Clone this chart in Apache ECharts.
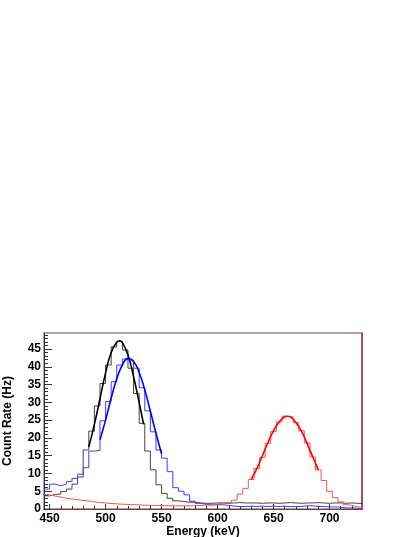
<!DOCTYPE html>
<html>
<head>
<meta charset="utf-8">
<script src="https://cdn.jsdelivr.net/npm/echarts@6/dist/echarts.min.js"></script>
<style>
  html, body { margin: 0; padding: 0; background: #fff; }
  #chart { width: 415px; height: 537px; }
</style>
</head>
<body>
<div id="chart"></div>
<script>
// histogram binning (keV)
const binWidth = 5;
const firstEdge = 445;
const redFirstEdge = 442.5;

// black source
const blackCounts = [3.7, 4.1, 4.2, 4.9, 5.6, 7.0, 9.0, 16.6, 21.9, 29.0,
  35.3, 40.5, 45.6, 47.1, 44.7, 39.6, 32.5, 24.1, 16.3, 11.0,
  6.8, 4.4, 3.0, 2.3, 2.1, 1.9, 1.9, 1.7, 1.6, 1.6,
  1.7, 1.7, 1.6, 1.7, 1.8, 1.7, 1.7, 1.7, 1.6, 1.7,
  1.7, 1.6, 1.7, 1.8, 1.7, 1.6, 1.7, 1.7, 1.8, 1.7,
  1.6, 1.7, 1.7, 1.6, 1.7, 1.6, 1.5];

// blue source
const blueCounts = [5.6, 7.0, 6.5, 7.0, 7.7, 8.6, 9.8, 11.6, 16.3, 16.5,
  24.8, 30.2, 35.8, 40.5, 42.2, 41.9, 39.6, 34.1, 27.6, 21.7,
  16.6, 14.3, 10.5, 6.0, 5.0, 4.0, 2.2, 1.6, 1.3, 1.1,
  1.2, 1.2, 1.0, 0.8, 0.7, 0.7, 0.8, 0.7, 0.8, 0.7,
  0.8, 0.7, 0.8, 0.7, 0.7, 0.7, 0.9, 0.9, 0.7, 0.7,
  0.6, 0.6, 0.5, 0.3, 0.3, 0.2, 0.2];

// red source (bins shifted by half a bin)
const redCounts = [4.1, 3.8, 3.5, 3.2, 2.9, 2.7, 2.5, 2.3, 2.1, 1.9,
  1.8, 1.6, 1.5, 1.4, 1.3, 1.25, 1.2, 1.1, 1.05, 1.0,
  1.0, 0.95, 0.9, 0.9, 0.9, 0.9, 0.9, 1.0, 1.0, 1.1,
  1.3, 1.6, 1.8, 1.8, 2.5, 4.2, 5.8, 8.3, 11.4, 14.5,
  18.5, 21.8, 24.5, 26.1, 25.9, 24.3, 22.0, 18.6, 14.6, 11.0,
  8.0, 5.0, 3.2, 2.0, 1.2, 0.8, 0.5, 0.4];

// gaussian fit curves, [energy, rate]
const blackFit = [[485, 17.4], [490, 23.8], [495, 31.0], [500, 38.3], [505, 44.0], [510, 46.9],
  [512.5, 47.3], [515, 46.8], [520, 43.3], [525, 37.2], [530, 29.9], [534, 23.8]];
const blueFit = [[495, 19.5], [500, 25.0], [505, 31.2], [510, 36.6], [515, 40.5], [520, 42.3],
  [525, 41.5], [530, 38.4], [535, 33.5], [540, 27.5], [545, 21.3], [550, 15.5]];
const redFit = [[630, 8.3], [635, 11.3], [640, 14.9], [645, 18.7], [650, 22.0], [655, 24.5],
  [660, 25.9], [662, 26.1], [665, 25.9], [670, 24.3], [675, 21.8], [680, 18.4], [685, 14.7], [690, 11.0]];

// axis ticks
const xMajorTicks = [450, 500, 550, 600, 650, 700];
const xMinorTicks = [];
for (let v = 450; v <= 720; v += 10) xMinorTicks.push(v);
const yMajorTicks = [0, 5, 10, 15, 20, 25, 30, 35, 40, 45];
const yMinorTicks = [];
for (let v = 0; v <= 49; v += 1) yMinorTicks.push(v);

const xMin = 445, xMax = 729, yMin = 0, yMax = 49.5;

// left-edge step data for a histogram
function histData(start, counts) {
  const pts = counts.map((c, i) => [start + i * binWidth, c]);
  pts.push([start + counts.length * binWidth, counts[counts.length - 1]]);
  return pts;
}

const font = { fontFamily: 'Liberation Sans, Arial, sans-serif', fontWeight: 'bold', fontSize: 12, color: '#000' };

const chart = echarts.init(document.getElementById('chart'), null, { renderer: 'canvas' });

const option = {
  animation: false,
  backgroundColor: '#fff',
  grid: {
    left: 44, right: 53, top: 333, bottom: 28,
    outerBoundsMode: 'none', containLabel: false,
    show: true, borderColor: '#8c8c8c', borderWidth: 1.5
  },
  xAxis: [
    {
      type: 'value', min: xMin, max: xMax, position: 'bottom',
      axisLine: { lineStyle: { color: '#7a3a3a', width: 1.2 } },
      axisTick: { inside: true, length: 5, customValues: xMajorTicks, lineStyle: { color: '#333' } },
      axisLabel: { customValues: xMajorTicks, margin: 4, ...font },
      splitLine: { show: false },
      name: 'Energy (keV)', nameLocation: 'middle', nameGap: 12,
      nameTextStyle: font
    },
    {
      type: 'value', min: xMin, max: xMax, position: 'bottom',
      axisLine: { show: false },
      axisTick: { inside: true, length: 3, customValues: xMinorTicks, lineStyle: { color: '#333' } },
      axisLabel: { show: false },
      splitLine: { show: false }
    }
  ],
  yAxis: [
    {
      type: 'value', min: yMin, max: yMax, position: 'left',
      axisLine: { show: true, lineStyle: { color: '#333', width: 1 } },
      axisTick: { show: true, inside: true, length: 8, customValues: yMajorTicks, lineStyle: { color: '#333' } },
      axisLabel: { customValues: yMajorTicks, margin: 3, ...font },
      splitLine: { show: false },
      name: 'Count Rate (Hz)', nameLocation: 'middle', nameGap: 30,
      nameTextStyle: font
    },
    {
      type: 'value', min: yMin, max: yMax, position: 'left',
      axisLine: { show: false },
      axisTick: { show: true, inside: true, length: 4, customValues: yMinorTicks, lineStyle: { color: '#333' } },
      axisLabel: { show: false },
      splitLine: { show: false }
    },
    {
      type: 'value', min: yMin, max: yMax, position: 'right',
      axisLine: { show: true, lineStyle: { color: '#a83232', width: 1.5 } },
      axisTick: { show: false },
      axisLabel: { show: false },
      splitLine: { show: false }
    }
  ],
  series: [
    {
      name: 'black hist', type: 'line', step: 'end', symbol: 'none',
      lineStyle: { color: '#444', width: 1 },
      data: histData(firstEdge, blackCounts)
    },
    {
      name: 'blue hist', type: 'line', step: 'end', symbol: 'none',
      lineStyle: { color: '#3c3cff', width: 1 },
      data: histData(firstEdge, blueCounts)
    },
    {
      name: 'red hist', type: 'line', step: 'end', symbol: 'none',
      lineStyle: { color: '#ff5050', width: 1 },
      data: histData(redFirstEdge, redCounts)
    },
    {
      name: 'black fit', type: 'line', smooth: true, symbol: 'none',
      lineStyle: { color: '#000', width: 1.6 },
      data: blackFit
    },
    {
      name: 'blue fit', type: 'line', smooth: true, symbol: 'none',
      lineStyle: { color: '#0000ff', width: 1.6 },
      data: blueFit
    },
    {
      name: 'red fit', type: 'line', smooth: true, symbol: 'none',
      lineStyle: { color: '#ff0000', width: 1.6 },
      data: redFit
    }
  ]
};

chart.setOption(option);
window.addEventListener('resize', () => chart.resize());
</script>
</body>
</html>
